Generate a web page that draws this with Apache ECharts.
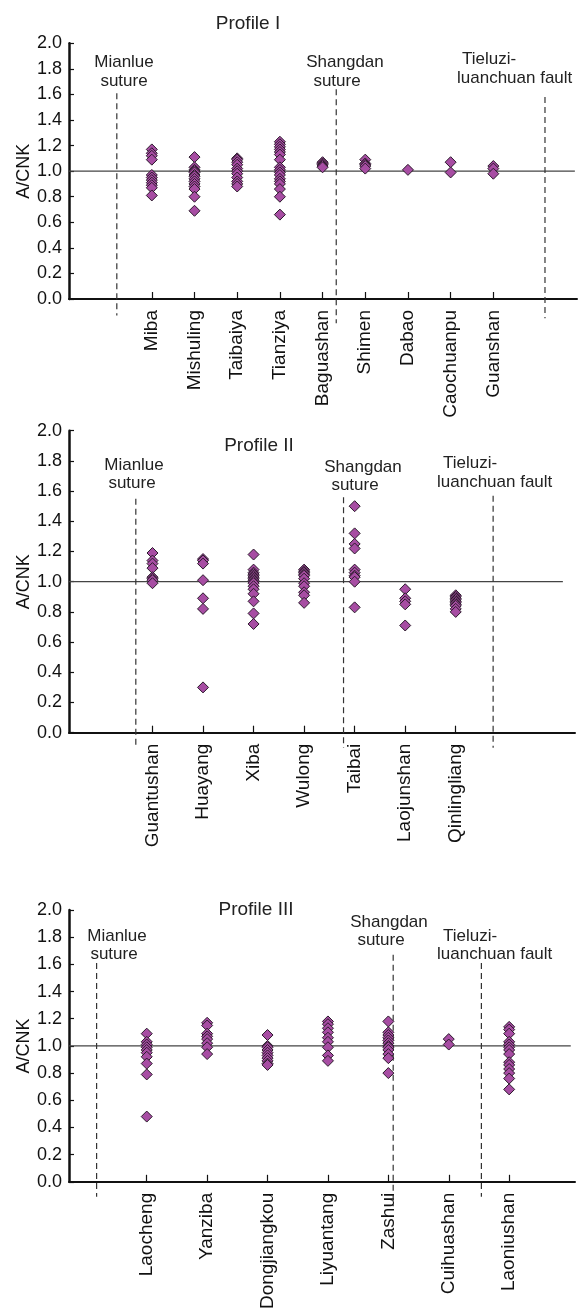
<!DOCTYPE html>
<html>
<head>
<meta charset="utf-8">
<script src="https://cdn.jsdelivr.net/npm/echarts@6/dist/echarts.min.js"></script>
<style>
html,body{margin:0;padding:0;background:#fff;}
#chart{width:587px;height:1312px;}
</style>
</head>
<body>
<div id="chart"></div>
<script>
// ---------- DATA ----------
const yTicks = [0, 0.2, 0.4, 0.6, 0.8, 1.0, 1.2, 1.4, 1.6, 1.8, 2.0];

const profile1Names = ['Miba','Mishuling','Taibaiya','Tianziya','Baguashan','Shimen','Dabao','Caochuanpu','Guanshan'];
const profile1Values = [
  [1.17,1.14,1.12,1.09,0.97,0.95,0.93,0.91,0.89,0.87,0.81],
  [1.11,1.03,1.01,1.00,0.99,0.97,0.96,0.94,0.92,0.90,0.88,0.86,0.80,0.69],
  [1.10,1.09,1.07,1.05,1.02,1.00,0.98,0.95,0.92,0.90,0.88],
  [1.23,1.21,1.19,1.17,1.15,1.13,1.09,1.03,1.01,0.99,0.97,0.94,0.92,0.90,0.86,0.80,0.66],
  [1.07,1.06,1.05,1.04,1.03],
  [1.09,1.06,1.05,1.04,1.02],
  [1.01],
  [1.07,0.99],
  [1.04,1.02,0.98]
];

const profile2Names = ['Guantushan','Huayang','Xiba','Wulong','Taibai','Laojunshan','Qinlingliang'];
const profile2Values = [
  [1.19,1.14,1.12,1.09,1.03,1.02,1.01,0.99],
  [1.15,1.14,1.12,1.01,0.89,0.82,0.30],
  [1.18,1.08,1.06,1.05,1.04,1.03,1.02,1.01,1.00,0.99,0.97,0.95,0.92,0.87,0.79,0.72],
  [1.08,1.07,1.06,1.05,1.04,1.02,0.99,0.97,0.93,0.91,0.86],
  [1.50,1.32,1.25,1.22,1.08,1.06,1.04,1.03,1.00,0.83],
  [0.95,0.89,0.87,0.85,0.71],
  [0.91,0.90,0.89,0.88,0.87,0.86,0.85,0.84,0.82,0.80]
];

const profile3Names = ['Laocheng','Yanziba','Dongjiangkou','Liyuantang','Zashui','Cuihuashan','Laoniushan'];
const profile3Values = [
  [1.09,1.03,1.01,0.99,0.97,0.95,0.92,0.87,0.79,0.48],
  [1.17,1.15,1.09,1.07,1.05,1.02,0.99,0.94],
  [1.08,1.00,0.99,0.97,0.95,0.93,0.91,0.89,0.87,0.86],
  [1.18,1.16,1.13,1.10,1.06,1.03,0.99,0.93,0.89],
  [1.18,1.10,1.08,1.06,1.04,1.02,1.00,0.99,0.97,0.94,0.91,0.80],
  [1.05,1.01],
  [1.14,1.12,1.09,1.03,1.01,0.99,0.97,0.94,0.88,0.86,0.83,0.80,0.76,0.68]
];

// boundary positions (in category units: first category = 1) and vertical extents (A/CNK units)
const profile1Boundaries = [[0.18, 1.61, -0.13], [5.32, 1.64, -0.19], [10.21, 1.58, -0.15]];
const profile2Boundaries = [[0.67, 1.55, -0.10], [4.78, 1.56, -0.10], [7.74, 1.57, -0.10]];
const profile3Boundaries = [[0.17, 1.61, -0.11], [5.08, 1.67, -0.18], [6.54, 1.61, -0.11]];

const referenceLevel = 1.0;
// x-range of each panel and end of reference line (category units)
const profile1Range = [-0.94, 10.96, 10.91];
const profile2Range = [-0.652, 9.36, 9.12];
const profile3Range = [-0.287, 8.09, 8.02];

// ---------- CHART ----------
const FONT = "'Liberation Sans', Arial, Helvetica, sans-serif";
const chart = echarts.init(document.getElementById('chart'), null, {renderer: 'canvas'});

const grids = [
  {left: 69, top: 43.3, width: 508, height: 255.7},
  {left: 69, top: 430.7, width: 506, height: 302},
  {left: 69, top: 910, width: 506, height: 274.7}
];
const profiles = [
  {names: profile1Names, values: profile1Values, bounds: profile1Boundaries, range: profile1Range},
  {names: profile2Names, values: profile2Values, bounds: profile2Boundaries, range: profile2Range},
  {names: profile3Names, values: profile3Values, bounds: profile3Boundaries, range: profile3Range}
];

const xAxes = [], yAxes = [], series = [];
profiles.forEach((p, i) => {
  const positions = p.names.map((_, k) => k + 1);
  xAxes.push({
    type: 'value', gridIndex: i, min: p.range[0], max: p.range[1],
    axisLine: {show: true, onZero: false, lineStyle: {color: '#111', width: 2}},
    axisTick: {show: true, inside: true, length: 7, customValues: positions, lineStyle: {color: '#111', width: 1.2}},
    axisLabel: {show: true, customValues: positions, rotate: 90, margin: 11,
      formatter: v => p.names[Math.round(v) - 1] || '',
      fontFamily: FONT, fontSize: 19, color: '#111'},
    splitLine: {show: false}
  });
  yAxes.push({
    type: 'value', gridIndex: i, min: 0, max: 2, interval: 0.2,
    name: 'A/CNK', nameLocation: 'middle', nameGap: 36, nameMoveOverlap: false,
    nameTextStyle: {fontFamily: FONT, fontSize: 18, color: '#111'},
    axisLine: {show: true, onZero: false, lineStyle: {color: '#111', width: 2.5}},
    axisTick: {show: true, inside: true, length: 5, lineStyle: {color: '#111', width: 1.2}},
    axisLabel: {fontFamily: FONT, fontSize: 18, color: '#111', margin: 7,
      formatter: v => v.toFixed(1)},
    splitLine: {show: false}
  });
  // reference line at A/CNK = 1
  series.push({
    type: 'line', xAxisIndex: i, yAxisIndex: i, symbol: 'none', silent: true, z: 1,
    data: [[p.range[0], referenceLevel], [p.range[2], referenceLevel]],
    lineStyle: {color: '#444', width: 1.3}
  });
  // dashed tectonic boundaries
  p.bounds.forEach(b => {
    series.push({
      type: 'line', xAxisIndex: i, yAxisIndex: i, symbol: 'none', silent: true, clip: false, z: 1,
      data: [[b[0], b[1]], [b[0], b[2]]],
      lineStyle: {color: '#333', width: 1.2, type: [6, 4]}
    });
  });
  // scatter points
  const pts = [];
  p.values.forEach((arr, k) => arr.forEach(v => pts.push([k + 1, v])));
  series.push({
    type: 'scatter', xAxisIndex: i, yAxisIndex: i, symbol: 'diamond', symbolSize: 11, z: 3,
    data: pts,
    itemStyle: {color: '#A74DA3', borderColor: '#2b1a2b', borderWidth: 1, opacity: 1}
  });
});

function txt(t, x, y, size, align) {
  return {type: 'text', silent: true, style: {text: t, x: x, y: y, fill: '#222',
    font: size + 'px ' + FONT, textAlign: align || 'center', textVerticalAlign: 'middle'}};
}

const graphics = [
  txt('Profile I', 248, 24, 19),
  txt('Mianlue', 124, 62, 17), txt('suture', 124, 81, 17),
  txt('Shangdan', 345, 62, 17), txt('suture', 337, 81, 17),
  txt('Tieluzi-', 462, 59, 17, 'left'), txt('luanchuan fault', 457, 78, 17, 'left'),

  txt('Profile II', 259, 446, 19),
  txt('Mianlue', 134, 465, 17), txt('suture', 132, 483, 17),
  txt('Shangdan', 363, 467, 17), txt('suture', 355, 485, 17),
  txt('Tieluzi-', 443, 463, 17, 'left'), txt('luanchuan fault', 437, 482, 17, 'left'),

  txt('Profile III', 256, 910, 19),
  txt('Mianlue', 117, 936, 17), txt('suture', 114, 954, 17),
  txt('Shangdan', 389, 922, 17), txt('suture', 381, 940, 17),
  txt('Tieluzi-', 443, 936, 17, 'left'), txt('luanchuan fault', 437, 954, 17, 'left')
];

chart.setOption({
  animation: false,
  backgroundColor: '#fff',
  grid: grids,
  xAxis: xAxes,
  yAxis: yAxes,
  series: series,
  graphic: graphics
});
</script>
</body>
</html>
